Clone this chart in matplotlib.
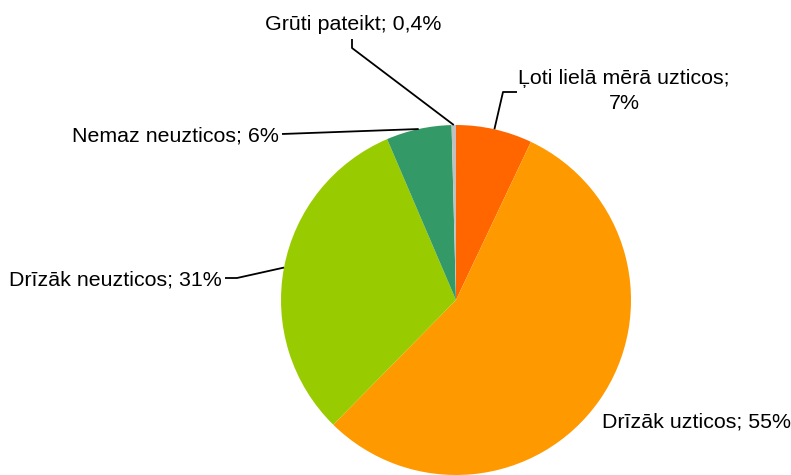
import numpy as np
import matplotlib
matplotlib.use("Agg")
import matplotlib.pyplot as plt

categories = ["Ļoti lielā mērā uzticos", "Drīzāk uzticos", "Drīzāk neuzticos",
              "Nemaz neuzticos", "Grūti pateikt"]
values = [7, 55, 31, 6, 0.4]
colors = ["#FF6600", "#FF9900", "#99CC00", "#339966", "#C0C0C0"]

W, H, DPI = 791, 475, 100
CX, CY, R = 456, 300, 175  # pie centre / radius in pixels

plt.rcParams['font.family'] = ['Liberation Sans', 'DejaVu Sans']
fig = plt.figure(figsize=(W / DPI, H / DPI), dpi=DPI)
ax = fig.add_axes([0, 0, 1, 1])

def P(px, py):
    return (px - CX) / R, (CY - py) / R

wedges, _ = ax.pie(values, colors=colors, startangle=90, counterclock=False,
                   radius=1, center=(0, 0), wedgeprops=dict(linewidth=0))
for w in wedges:
    w.set_clip_on(False)

ax.set_xlim(-CX / R, (W - CX) / R)
ax.set_ylim(-(H - CY) / R, CY / R)
ax.set_aspect('auto')
ax.axis('off')

def fmt(v):
    return f"{v:g}".replace('.', ',') + "%"

# edge points at wedge mid-angles
total = sum(values)
edge = []
cum = 0
for v in values:
    mid = (cum + v / 2) / total * 2 * np.pi
    edge.append((np.sin(mid), np.cos(mid)))
    cum += v

fs = 15.4
# label layout: (text anchor px, ha, va, leader elbow points px)
layout = [
    dict(pos=(624, 91), ha='center', va='center', multiline=True,
         path=[(503, 92), (517, 92)]),
    dict(pos=(602, 427), ha='left', va='baseline', path=None),
    dict(pos=(222, 286), ha='right', va='baseline', path=[(237, 278), (225, 278)]),
    dict(pos=(279, 141), ha='right', va='baseline', path=[(282, 134)]),
    dict(pos=(353, 30), ha='center', va='baseline', path=[(352, 48), (352, 39)]),
]

for i, (cat, v, L) in enumerate(zip(categories, values, layout)):
    sep = ";\n" if L.get('multiline') else "; "
    txt = cat + sep + fmt(v)
    x, y = P(*L['pos'])
    ax.text(x, y, txt, ha=L['ha'], va=L['va'], fontsize=fs, color='black',
            linespacing=1.45, multialignment='center')
    if L['path']:
        pts = [edge[i]] + [P(*p) for p in L['path']]
        xs, ys = zip(*pts)
        ax.plot(xs, ys, color='black', lw=1.3, solid_capstyle='butt', clip_on=False)

fig.savefig("out.png", dpi=DPI)
